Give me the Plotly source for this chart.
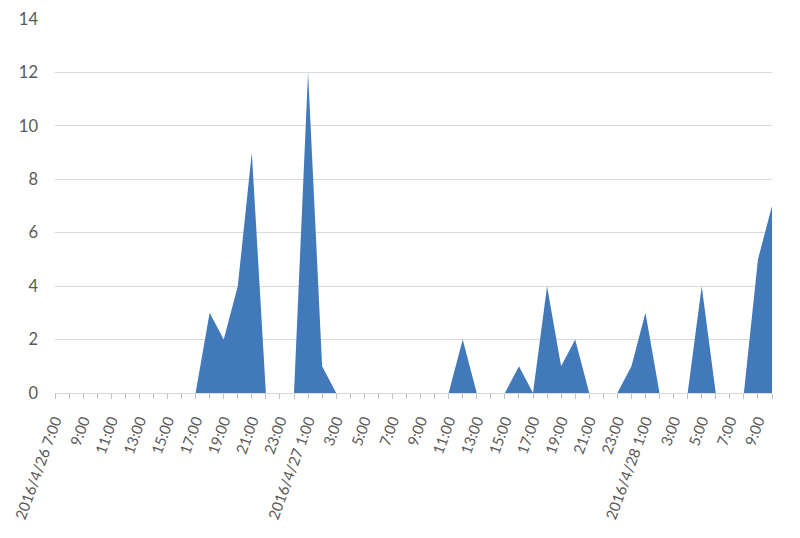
import plotly.graph_objects as go

# hourly counts, 2016/4/26 7:00 .. 2016/4/28 10:00
hours = list(range(52))
counts = [0, 0, 0, 0, 0, 0, 0, 0, 0, 0,
          0, 3, 2, 4, 9, 0, 0, 0, 12, 1,
          0, 0, 0, 0, 0, 0, 0, 0, 0, 2,
          0, 0, 0, 1, 0, 4, 1, 2, 0, 0,
          0, 1, 3, 0, 0, 0, 4, 0, 0, 0,
          5, 7]

tick_labels = ['2016/4/26 7:00', '9:00', '11:00', '13:00', '15:00', '17:00',
               '19:00', '21:00', '23:00', '2016/4/27 1:00', '3:00', '5:00',
               '7:00', '9:00', '11:00', '13:00', '15:00', '17:00', '19:00',
               '21:00', '23:00', '2016/4/28 1:00', '3:00', '5:00', '7:00', '9:00']

ticktext = []
for h in hours:
    ticktext.append(tick_labels[h // 2] if h % 2 == 0 else '')

fig = go.Figure()
fig.add_trace(go.Scatter(
    x=hours, y=counts, mode='lines', fill='tozeroy',
    line=dict(color='#4279BB', width=0),
    fillcolor='#4279BB', hoverinfo='x+y', showlegend=False))

# page body has an 8px margin, so the figure is a bit smaller than the window
fig.update_layout(
    width=792, height=530,
    margin=dict(l=47, r=28, t=11, b=145),
    paper_bgcolor='white', plot_bgcolor='white',
    font=dict(family='Lato, Noto Sans, sans-serif', color='#595959', size=16),
    xaxis=dict(
        range=[0, 51], tickmode='array', tickvals=hours, ticktext=ticktext,
        tickangle=-70, ticks='outside', ticklen=5, tickcolor='#bfbfbf',
        tickfont=dict(size=15),
        showline=True, linecolor='#d9d9d9', linewidth=1, automargin=False,
        showgrid=False, zeroline=False, ticklabelstandoff=7),
    yaxis=dict(
        range=[0, 14], dtick=2, showgrid=True, gridcolor='#d9d9d9',
        gridwidth=1, zeroline=False, showline=False, ticks='',
        tickfont=dict(size=16.5), automargin=False,
        ticklabelstandoff=16),
)

fig.write_html("out.html")
